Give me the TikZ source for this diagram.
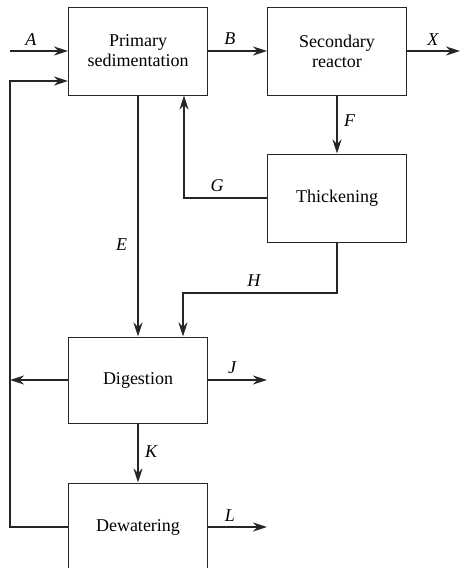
\documentclass[tikz,border=0pt]{standalone}
\usepackage{fontspec}
\setmainfont{Liberation Serif}
\usetikzlibrary{arrows.meta,positioning,calc}
\begin{document}
\begin{tikzpicture}[x=1pt,y=-1pt,>={Stealth[length=14pt,width=9pt]},
  box/.style={draw=black!85,line width=1pt,align=center,minimum width=139pt,minimum height=88pt,inner sep=0pt,font=\fontsize{18}{20}\selectfont},
  flow/.style={->,line width=2pt,draw=black!85},
  lbl/.style={font=\fontsize{18}{20}\selectfont\itshape,inner sep=2pt}]
\useasboundingbox (0,0) rectangle (460,568);
\node[box] (prim) at (138,51) {Primary\\sedimentation};
\node[box] (sec) at (337,51) {Secondary\\reactor};
\node[box] (thick) at (337,198) {Thickening};
\node[box,minimum height=86pt] (dig) at (138,380) {Digestion};
\node[box] (dew) at (138,527) {Dewatering};
\coordinate (inA) at (10,51);
\coordinate (outX) at (460,51);
\coordinate (outJ) at (267,380);
\coordinate (outL) at (267,527);
\coordinate (back) at (10,380);
\coordinate (rcl) at (10,81);
\draw[flow] (inA)--(prim.west) node[lbl,pos=0.36,above=3pt] {A};
\draw[flow] (prim)--(sec) node[lbl,pos=0.37,above=3pt] {B};
\draw[flow] (sec.east)--(outX) node[lbl,pos=0.49,above=3pt] {X};
\draw[flow] (sec)--(thick) node[lbl,pos=0.44,right=4pt] {F};
\draw[flow] (thick.west)-|node[lbl,pos=0.3,above=3pt] {G} ([xshift=46pt]prim.south);
\draw[flow] (prim)--(dig) node[lbl,pos=0.62,left=8pt] {E};
\draw[flow] (thick.south)--++(0,50)-|node[lbl,pos=0.27,above=3pt] {H} ([xshift=45pt]dig.north);
\draw[flow] (dig.west)--(back);
\draw[flow] (dig.east)--(outJ) node[lbl,pos=0.41,above=3pt] {J};
\draw[flow] (dig)--(dew) node[lbl,pos=0.47,right=4pt] {K};
\draw[flow] (dew.east)--(outL) node[lbl,pos=0.37,above=3pt] {L};
\draw[flow] (dew.west)-|(rcl)--(prim.west|-rcl);
\end{tikzpicture}
\end{document}
